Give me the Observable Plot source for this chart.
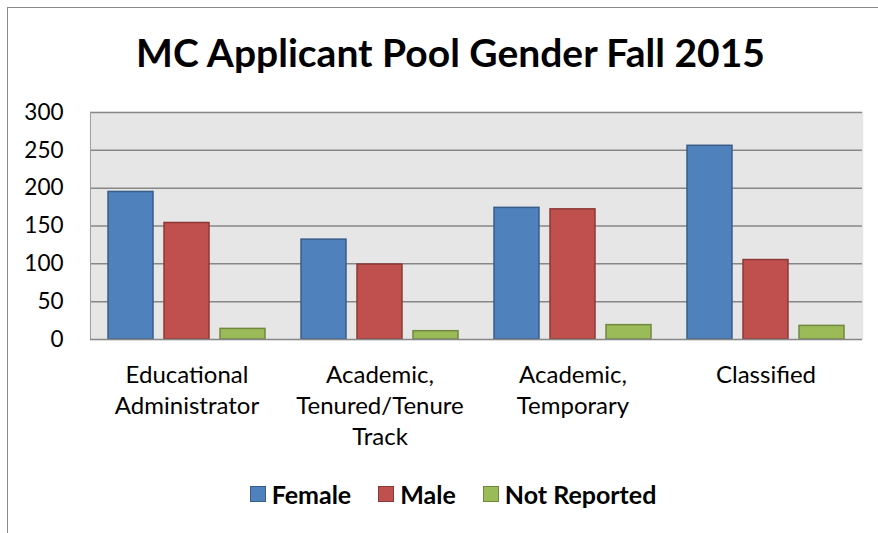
<!DOCTYPE html>
<html><head><meta charset="utf-8">
<script src="https://cdn.jsdelivr.net/npm/d3@7"></script>
<script src="https://cdn.jsdelivr.net/npm/@observablehq/plot@0.6"></script>
<style>
body{margin:0;background:#fff;overflow:hidden;}
#wrap{position:relative;width:878px;height:533px;overflow:hidden;font-family:Lato,"Open Sans",sans-serif;background:#fff;}
#frame{position:absolute;left:7px;top:7px;width:1000px;height:1000px;border:1px solid #8a8a8a;box-sizing:border-box;}
#title{position:absolute;left:0;width:901px;top:27px;text-align:center;font-weight:bold;font-size:39px;line-height:50px;color:#000;}
#chart{position:absolute;left:0;top:0;}
#legend{position:absolute;left:0;width:906px;top:479px;display:flex;justify-content:center;gap:27px;font-weight:bold;font-size:25px;line-height:30px;color:#000;}
.item{display:flex;align-items:center;gap:6px;}
.sw{width:14px;height:14px;border:1px solid;}
</style></head>
<body><div id="wrap"><div id="frame"></div><div id="chart"></div><div id="title"></div><div id="legend"></div></div>
<script>
const title = "MC Applicant Pool Gender Fall 2015";
const categories = ["Educational\nAdministrator", "Academic,\nTenured/Tenure\nTrack", "Academic,\nTemporary", "Classified"];
const genders = ["Female", "Male", "Not Reported"];
const female = [195, 132, 174, 256];
const male = [154, 99, 172, 105];
const notReported = [14, 11, 19, 18];
const yTicks = [0, 50, 100, 150, 200, 250, 300];

const fillOf = {"Female": "#4F81BD", "Male": "#C0504D", "Not Reported": "#9BBB59"};
const strokeOf = {"Female": "#385D8A", "Male": "#8C3836", "Not Reported": "#71893F"};

const series = [female, male, notReported];
const data = categories.flatMap((c, i) => genders.map((g, j) => ({category: c, gender: g, value: series[j][i]})));

document.getElementById("title").textContent = title;

const svg = Plot.plot({
  width: 878, height: 460,
  marginTop: 112, marginBottom: 121, marginLeft: 90, marginRight: 16,
  style: {fontFamily: "Lato, 'Open Sans', sans-serif", fontSize: "20px", color: "#000", background: "transparent"},
  fx: {domain: categories, padding: 0, axis: null},
  x: {domain: genders, paddingInner: 0.193, paddingOuter: 0.29, axis: null},
  y: {domain: [0, 300], axis: null},
  marks: [
    Plot.frame({fill: "#e6e6e6", stroke: "#e6e6e6", strokeWidth: 1.5}),
    Plot.ruleY(yTicks.slice(1), {stroke: "#878787", strokeWidth: 1.5}),
    Plot.frame({anchor: "left", stroke: "#a0a0a0", strokeWidth: 1, facetAnchor: "left"}),
    Plot.barY(data, {fx: "category", x: "gender", y: "value",
      fill: d => fillOf[d.gender], stroke: d => strokeOf[d.gender], strokeWidth: 1.5}),
    Plot.ruleY([0], {stroke: "#878787", strokeWidth: 1.5}),
    Plot.axisY({ticks: yTicks, tickSize: 0, tickPadding: 27, fontSize: 22.5, label: null, facetAnchor: "left"}),
    Plot.text(categories, {fx: d => d, text: d => d, frameAnchor: "bottom", lineAnchor: "top",
      dy: 21, lineHeight: 1.3, fontSize: 24, fill: "#000"})
  ]
});
document.getElementById("chart").appendChild(svg);

const legend = document.getElementById("legend");
genders.forEach(g => {
  const it = document.createElement("div"); it.className = "item";
  const sw = document.createElement("div"); sw.className = "sw";
  sw.style.background = fillOf[g]; sw.style.borderColor = strokeOf[g];
  const t = document.createElement("span"); t.textContent = g;
  it.appendChild(sw); it.appendChild(t); legend.appendChild(it);
});
</script></body></html>
